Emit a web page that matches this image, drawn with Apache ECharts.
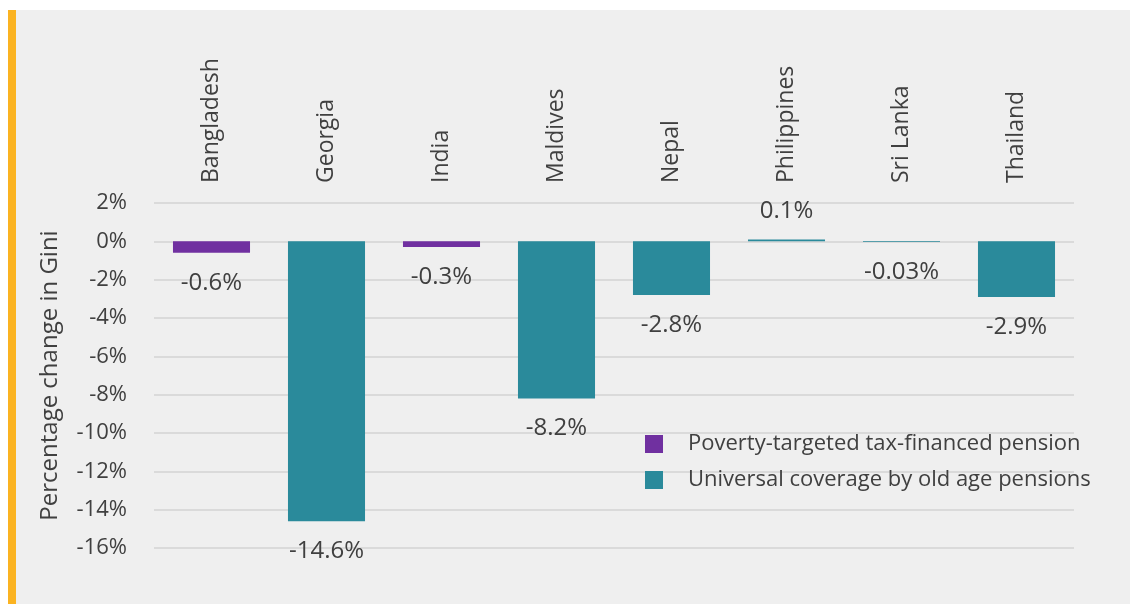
<!DOCTYPE html>
<html>
<head>
<meta charset="utf-8">
<script src="https://cdn.jsdelivr.net/npm/echarts@6/dist/echarts.min.js"></script>
<style>
  html, body { margin: 0; padding: 0; background: #ffffff; }
  #chart { width: 1130px; height: 604px; }
</style>
</head>
<body>
<div id="chart"></div>
<script>
// Change in Gini coefficient by pension scheme, per country (%)
const countries = ['Bangladesh', 'Georgia', 'India', 'Maldives', 'Nepal', 'Philippines', 'Sri Lanka', 'Thailand'];
const povertyTargeted = [-0.6, null, -0.3, null, null, null, null, null];
const universalCoverage = [null, -14.6, null, -8.2, -2.8, 0.1, -0.03, -2.9];
const valueLabels = ['-0.6%', '-14.6%', '-0.3%', '-8.2%', '-2.8%', '0.1%', '-0.03%', '-2.9%'];
const yTicks = { min: -16, max: 2, step: 2 };

const FONT = '"Open Sans", sans-serif';
const TEXT = '#404040';

function seriesData(values) {
  return values.map(function (v, i) {
    if (v === null) return '-';
    return {
      value: v,
      label: {
        position: v >= 0 ? 'top' : 'bottom',
        distance: v >= 0 ? 16 : 18,
        formatter: valueLabels[i]
      }
    };
  });
}

const chart = echarts.init(document.getElementById('chart'));
chart.setOption({
  backgroundColor: '#ffffff',
  textStyle: { fontFamily: FONT },
  graphic: [
    { type: 'rect', silent: true, z: -10, shape: { x: 16, y: 10, width: 1114, height: 594 }, style: { fill: '#efefef' } },
    { type: 'rect', silent: true, z: -10, shape: { x: 8, y: 10, width: 8, height: 594 }, style: { fill: '#fbb321' } }
  ],
  grid: { left: 154, right: 56, top: 203, bottom: 56, containLabel: false },
  legend: {
    orient: 'vertical',
    left: 640,
    top: 428,
    itemWidth: 18,
    itemHeight: 18,
    itemGap: 14,
    icon: 'rect',
    textStyle: { color: TEXT, fontSize: 22, fontFamily: FONT, padding: [0, 0, 0, 20] },
    data: ['Poverty-targeted tax-financed pension', 'Universal coverage by old age pensions']
  },
  xAxis: {
    type: 'category',
    data: countries,
    position: 'top',
    axisLine: { show: false },
    axisTick: { show: false },
    axisLabel: { rotate: 90, margin: 20, color: TEXT, fontSize: 23, fontFamily: FONT }
  },
  yAxis: {
    type: 'value',
    min: yTicks.min,
    max: yTicks.max,
    interval: yTicks.step,
    name: 'Percentage change in Gini',
    nameLocation: 'middle',
    nameGap: 92,
    nameTextStyle: { color: TEXT, fontSize: 24, fontFamily: FONT },
    axisLine: { show: false },
    axisTick: { show: false },
    axisLabel: { margin: 27, color: TEXT, fontSize: 22, fontFamily: FONT, formatter: '{value}%' },
    splitLine: { lineStyle: { color: '#d3d3d3', width: 1.5 } }
  },
  series: [
    {
      name: 'Poverty-targeted tax-financed pension',
      type: 'bar',
      stack: 'gini',
      barWidth: '67%',
      itemStyle: { color: '#7030a0' },
      label: { show: true, color: TEXT, fontSize: 24, fontFamily: FONT },
      data: seriesData(povertyTargeted)
    },
    {
      name: 'Universal coverage by old age pensions',
      type: 'bar',
      stack: 'gini',
      barWidth: '67%',
      itemStyle: { color: '#2a8a9b' },
      label: { show: true, color: TEXT, fontSize: 24, fontFamily: FONT },
      data: seriesData(universalCoverage)
    }
  ]
});
</script>
</body>
</html>
